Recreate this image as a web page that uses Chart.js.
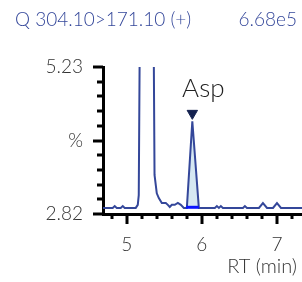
<!DOCTYPE html>
<html>
<head>
<meta charset="utf-8">
<title>Q 304.10>171.10 (+)</title>
<script src="https://cdn.jsdelivr.net/npm/chart.js"></script>
<style>
  html, body { margin: 0; padding: 0; background: #fff; }
  #wrap { width: 302px; height: 282px; position: relative; }
</style>
</head>
<body>
<div id="wrap"><canvas id="chrom" width="302" height="282"></canvas></div>
<script>
// trace (RT in min, response)
const rt = [4.684, 4.813, 4.84, 4.867, 4.92, 4.947, 4.973, 5.12, 5.147, 5.16, 5.175,
  5.19, 5.28, 5.35, 5.357, 5.37, 5.4, 5.427, 5.467, 5.52, 5.547, 5.573, 5.6, 5.64,
  5.68, 5.72, 5.76, 5.8, 5.873, 5.96, 6.04, 6.173, 6.2, 6.227, 6.253, 6.28, 6.547,
  6.573, 6.6, 6.76, 6.813, 6.867, 6.947, 7.0, 7.053, 7.333];
const resp = [2.92, 2.92, 2.95, 2.92, 2.92, 2.95, 2.92, 2.92, 2.97, 3.13, 6.0,
  12.0, 14.0, 9.0, 6.0, 3.46, 3.16, 3.08, 3.0, 3.0, 2.97, 2.935, 2.97, 2.97,
  3.0, 2.97, 2.92, 2.92, 4.34, 2.92, 2.92, 2.92, 2.95, 2.92, 2.95, 2.92, 2.92,
  2.95, 2.92, 2.92, 3.0, 2.92, 2.92, 3.0, 2.92, 2.92];

// integrated peak
const peakName = 'Asp';
const peakRt = [5.8, 5.873, 5.96];
const peakResp = [2.92, 4.34, 2.92];
const peakBase = 2.93;
const peakApex = { rt: 5.873, resp: 4.47 };

const yMin = 2.82, yMax = 5.23;
const yTickLabels = ['2.82', '', '', '', '', '%', '', '', '', '', '5.23'];
const xMin = 4.684, xMax = 7.333;
const xTicks = [4.8, 5.0, 5.2, 5.4, 5.6, 5.8, 6.0, 6.2, 6.4, 6.6, 6.8, 7.0, 7.2];
const xMajor = [5, 6, 7];

const titleText = 'Q 304.10>171.10 (+)';
const maxText = '6.68e5';
const xTitle = 'RT (min)';

const lineCol = '#34479a';
const font = 'Lato, "Noto Sans", sans-serif';

const decor = {
  id: 'decor',
  afterDraw(chart) {
    const ctx = chart.ctx, x = chart.scales.x, y = chart.scales.y;
    ctx.save();
    ctx.strokeStyle = '#000';
    ctx.lineWidth = 3;
    ctx.lineCap = 'butt';
    y.ticks.forEach((t, i) => {
      const py = Math.round(y.getPixelForValue(t.value));
      const len = (i % 5 === 0) ? 10 : 6;
      ctx.beginPath();
      ctx.moveTo(x.left - len, py);
      ctx.lineTo(x.left, py);
      ctx.stroke();
    });
    x.ticks.forEach(t => {
      const px = Math.round(x.getPixelForValue(t.value));
      const major = xMajor.some(m => Math.abs(m - t.value) < 1e-6);
      ctx.beginPath();
      ctx.moveTo(px, y.bottom);
      ctx.lineTo(px, y.bottom + (major ? 10 : 5));
      ctx.stroke();
    });
    // texts
    ctx.fillStyle = lineCol;
    ctx.font = '300 19px ' + font;
    ctx.textBaseline = 'middle';
    ctx.textAlign = 'left';
    ctx.fillText(titleText, 15, 20);
    ctx.textAlign = 'right';
    ctx.fillText(maxText, 297, 20);
    ctx.fillStyle = '#222';
    ctx.font = '300 26px ' + font;
    ctx.textAlign = 'center';
    ctx.textBaseline = 'alphabetic';
    ctx.fillText(peakName, x.getPixelForValue(peakApex.rt) + 11, 97);
    ctx.fillStyle = '#333';
    ctx.font = '300 20px ' + font;
    ctx.textAlign = 'right';
    ctx.textBaseline = 'middle';
    ctx.fillText(xTitle, 297, 267);
    ctx.restore();
  }
};

new Chart(document.getElementById('chrom'), {
  type: 'line',
  data: {
    datasets: [
      {
        label: 'area',
        data: peakRt.map((v, i) => ({ x: v, y: peakResp[i] })),
        borderWidth: 0,
        pointRadius: 0,
        backgroundColor: '#d5e7f2',
        fill: { value: peakBase },
        order: 3
      },
      {
        label: 'trace',
        data: rt.map((v, i) => ({ x: v, y: resp[i] })),
        borderColor: lineCol,
        borderWidth: 2,
        pointRadius: 0,
        fill: false,
        tension: 0,
        order: 2
      },
      {
        label: 'baseline',
        data: [{ x: peakRt[0] - 0.01, y: peakBase }, { x: peakRt[2], y: peakBase }],
        borderColor: '#0a14ff',
        borderWidth: 3,
        pointRadius: 0,
        fill: false,
        order: 1
      },
      {
        label: 'apex',
        data: [{ x: peakApex.rt, y: peakApex.resp }],
        showLine: false,
        pointStyle: 'triangle',
        rotation: 180,
        pointRadius: 6,
        backgroundColor: '#14214f',
        borderColor: '#14214f',
        borderWidth: 1,
        order: 0
      }
    ]
  },
  options: {
    responsive: false,
    animation: false,
    events: [],
    layout: { autoPadding: false, padding: { top: 67, right: 0, left: 0, bottom: 0 } },
    plugins: { legend: { display: false }, tooltip: { enabled: false }, title: { display: false } },
    scales: {
      x: {
        type: 'linear',
        min: xMin,
        max: xMax,
        afterBuildTicks: s => { s.ticks = xTicks.map(v => ({ value: v })); },
        afterFit: s => { s.height = 68; s.paddingLeft = 0; s.paddingRight = 0; },
        grid: { display: false, drawTicks: false },
        border: { display: true, color: '#000', width: 3 },
        ticks: {
          autoSkip: false,
          maxRotation: 0,
          padding: 19,
          color: '#333',
          font: { family: font, size: 19, weight: 300 },
          callback: v => xMajor.some(m => Math.abs(m - v) < 1e-6) ? String(Math.round(v)) : ''
        }
      },
      y: {
        type: 'linear',
        min: yMin,
        max: yMax,
        afterBuildTicks: s => {
          s.ticks = yTickLabels.map((l, i) => ({ value: yMin + (yMax - yMin) * i / (yTickLabels.length - 1) }));
        },
        afterFit: s => { s.width = 103; s.paddingTop = 0; s.paddingBottom = 0; },
        grid: { display: false, drawTicks: false },
        border: { display: true, color: '#000', width: 3 },
        ticks: {
          autoSkip: false,
          padding: 20,
          color: '#333',
          font: { family: font, size: 19, weight: 300 },
          callback: (v, i) => yTickLabels[i]
        }
      }
    }
  },
  plugins: [decor]
});
</script>
</body>
</html>
